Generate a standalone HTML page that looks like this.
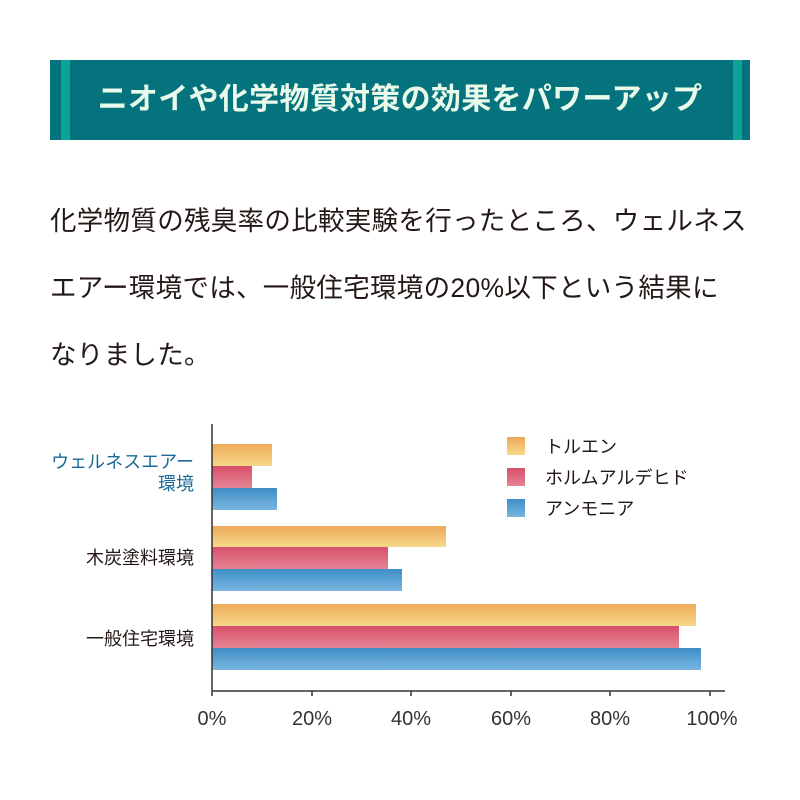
<!DOCTYPE html>
<html><head><meta charset="utf-8"><style>
body{margin:0;width:800px;height:800px;background:#fff;font-family:"Liberation Sans","Noto Sans CJK JP",sans-serif;position:relative;overflow:hidden}
.band{position:absolute;left:50px;top:60px;width:700px;height:80px;background:#05737e}
.s{position:absolute;top:0;width:9px;height:80px;background:#0aa396}
.title{position:absolute;left:0;right:0;top:60px;height:80px;line-height:80px;text-align:center;color:#eafaea;font-size:30px;font-weight:bold;letter-spacing:0.3px}
.p{position:absolute;left:50px;top:188px;width:740px;font-size:26.5px;line-height:67px;color:#231815;letter-spacing:0.3px}
</style></head><body>
<div class="band"><div class="s" style="left:11px"></div><div class="s" style="left:683px"></div></div>
<div class="title">ニオイや化学物質対策の効果をパワーアップ</div>
<div class="p">化学物質の残臭率の比較実験を行ったところ、ウェルネス<br>エアー環境では、一般住宅環境の20%以下という結果に<br>なりました。</div>
<svg width="800" height="800" style="position:absolute;left:0;top:0" font-family="Liberation Sans, Noto Sans CJK JP, sans-serif">
<defs>
<linearGradient id="o" x1="0" y1="0" x2="0" y2="1"><stop offset="0" stop-color="#ecaa58"/><stop offset="1" stop-color="#f7d88a"/></linearGradient>
<linearGradient id="r" x1="0" y1="0" x2="0" y2="1"><stop offset="0" stop-color="#d8506a"/><stop offset="1" stop-color="#e58494"/></linearGradient>
<linearGradient id="b" x1="0" y1="0" x2="0" y2="1"><stop offset="0" stop-color="#3e8ec6"/><stop offset="1" stop-color="#7ab6e0"/></linearGradient>
</defs>
<rect x="212" y="444" width="60" height="22" fill="url(#o)"/>
<rect x="212" y="466" width="40" height="22" fill="url(#r)"/>
<rect x="212" y="488" width="65" height="22" fill="url(#b)"/>
<rect x="212" y="526" width="234" height="21" fill="url(#o)"/>
<rect x="212" y="547" width="176" height="22" fill="url(#r)"/>
<rect x="212" y="569" width="190" height="22" fill="url(#b)"/>
<rect x="212" y="604" width="484" height="22" fill="url(#o)"/>
<rect x="212" y="626" width="467" height="22" fill="url(#r)"/>
<rect x="212" y="648" width="489" height="22" fill="url(#b)"/>
<g stroke="#333" stroke-width="1.5" fill="none">
<path d="M212 424V696M212 691H725"/>
<path d="M312 691v5M411 691v5M511 691v5M610 691v5M710 691v5"/>
</g>
<g font-size="20" fill="#333" text-anchor="middle">
<text x="212" y="725">0%</text><text x="312" y="725">20%</text><text x="411" y="725">40%</text><text x="511" y="725">60%</text><text x="610" y="725">80%</text><text x="712" y="725">100%</text>
</g>
<g font-size="18" text-anchor="end">
<text x="194" y="468" fill="#1b6b98">ウェルネスエアー</text>
<text x="194" y="490" fill="#1b6b98">環境</text>
<text x="194" y="564" fill="#231815">木炭塗料環境</text>
<text x="194" y="645" fill="#231815">一般住宅環境</text>
</g>
<rect x="507" y="437" width="18" height="18" fill="url(#o)"/>
<rect x="507" y="468" width="18" height="18" fill="url(#r)"/>
<rect x="507" y="499" width="18" height="18" fill="url(#b)"/>
<g font-size="18" fill="#231815">
<text x="545" y="453">トルエン</text>
<text x="545" y="484">ホルムアルデヒド</text>
<text x="545" y="515">アンモニア</text>
</g>
</svg>
</body></html>
